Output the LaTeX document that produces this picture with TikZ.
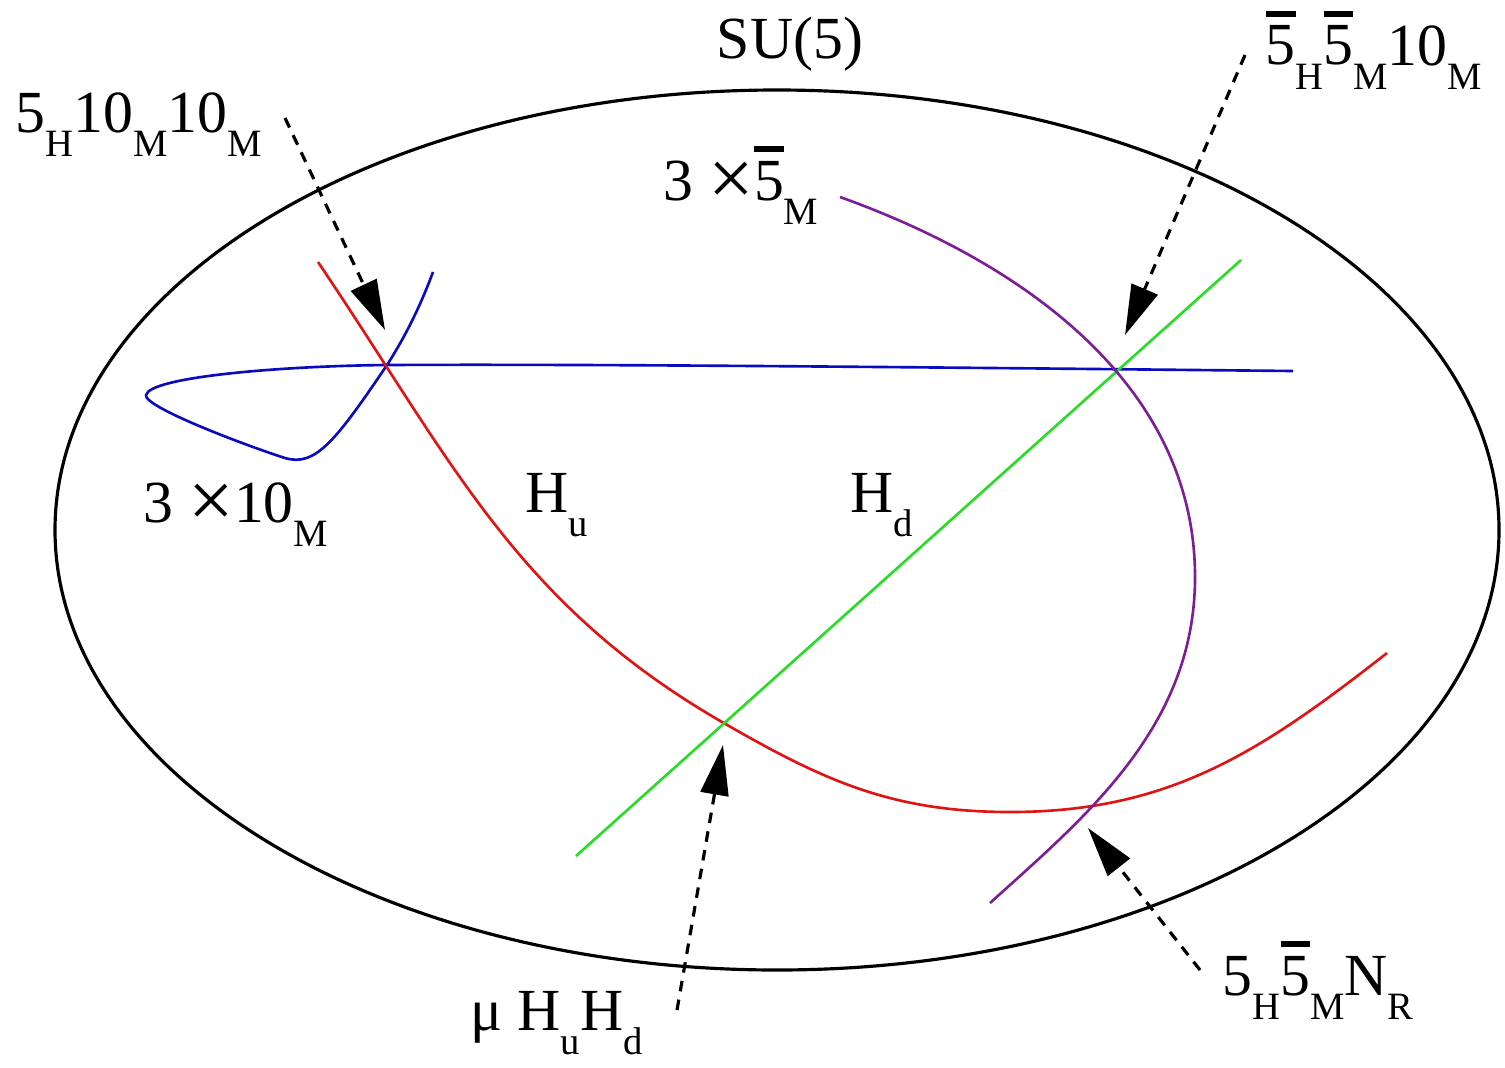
\documentclass[tikz,border=0pt]{standalone}
\usepackage{fontspec}
\setmainfont{Liberation Serif}
\usetikzlibrary{arrows.meta}
\newcommand{\lsub}[1]{\raisebox{-7pt}{\fontsize{11}{11}\selectfont #1}}
\newcommand{\obar}[1]{\vbox{\hrule height 1.5pt\kern 2.6pt\hbox{#1}}}
\newcommand{\bigtimes}{\raisebox{-1.6pt}{\fontsize{23}{23}\selectfont ×}}
\definecolor{curvered}{RGB}{225,20,20}
\definecolor{curveblue}{RGB}{10,10,190}
\definecolor{curvegreen}{RGB}{40,220,40}
\definecolor{curvepurple}{RGB}{125,30,150}
\tikzset{
  oval/.style={
    draw=black,
    line width=0.9pt,
  },
  matter/.style={
    line width=0.75pt,
  },
  lbl/.style={
    font=\fontsize{17}{20}\selectfont,
    inner sep=0pt,
    anchor=base west,
  },
  ptr/.style={
    -{Triangle[length=5mm, width=2.8mm]},
    line width=0.9pt,
    dash pattern=on 3pt off 2.4pt,
  },
}

\begin{document}
\begin{tikzpicture}[x=1cm, y=1cm]
  \useasboundingbox (0,0) rectangle (15.05,10.67);

  % SU(5) brane
  \draw[oval] (7.77,5.37) ellipse [x radius=7.22, y radius=4.40];
  \node[lbl, anchor=base] (su5) at (7.90,10.08) {SU(5)};

  % matter curves
  \draw[matter, curveblue] (12.93,6.96) .. controls (9,7.0) and (6,7.03) .. (3.87,7.02)
    .. controls (2.8,7.01) and (1.5,6.9) .. (1.46,6.72)
    .. controls (1.43,6.6) and (2.5,6.2) .. (2.85,6.09)
    .. controls (3.15,6.0) and (3.35,6.25) .. (3.87,7.02)
    .. controls (4.05,7.3) and (4.2,7.6) .. (4.33,7.95);
  \draw[matter, curvered] (3.18,8.05) to[out=-56,in=150] (7.22,3.45)
    to[out=-30,in=180] (10.1,2.55) to[out=0,in=218] (13.87,4.14);
  \draw[matter, curvegreen] (5.76,2.11) -- (12.41,8.07);
  \draw[matter, curvepurple] (8.40,8.70) .. controls (10.35,8.0) and (11.95,6.75) .. (11.95,4.9)
    .. controls (11.95,3.4) and (10.85,2.5) .. (9.90,1.64);

  % curve labels
  \node[lbl] (tenm) at (1.43,5.45) {3 \bigtimes10\lsub{M}};
  \node[lbl] (fivem) at (6.63,8.67) {3 \bigtimes\obar{5}\lsub{M}};
  \node[lbl] (hu) at (5.25,5.55) {H\lsub{u}};
  \node[lbl] (hd) at (8.50,5.55) {H\lsub{d}};

  % Yukawa points
  \node[lbl] (yup) at (0.15,9.35) {5\lsub{H}10\lsub{M}10\lsub{M}};
  \node[lbl] (ydown) at (12.65,10.02) {\obar{5}\lsub{H}\obar{5}\lsub{M}10\lsub{M}};
  \node[lbl] (mu) at (4.70,0.37) {μ H\lsub{u}H\lsub{d}};
  \node[lbl] (ynu) at (12.22,0.72) {5\lsub{H}\obar{5}\lsub{M}N\lsub{R}};

  \coordinate (t1) at (2.85,9.49);
  \coordinate (p1) at (3.85,7.37);
  \coordinate (t2) at (12.45,10.12);
  \coordinate (p2) at (11.25,7.32);
  \coordinate (t3) at (6.77,0.57);
  \coordinate (p3) at (7.23,3.22);
  \coordinate (t4) at (12.00,0.97);
  \coordinate (p4) at (10.88,2.39);

  \draw[ptr] (t1) -- (p1);
  \draw[ptr] (t2) -- (p2);
  \draw[ptr] (t3) -- (p3);
  \draw[ptr] (t4) -- (p4);
\end{tikzpicture}
\end{document}
